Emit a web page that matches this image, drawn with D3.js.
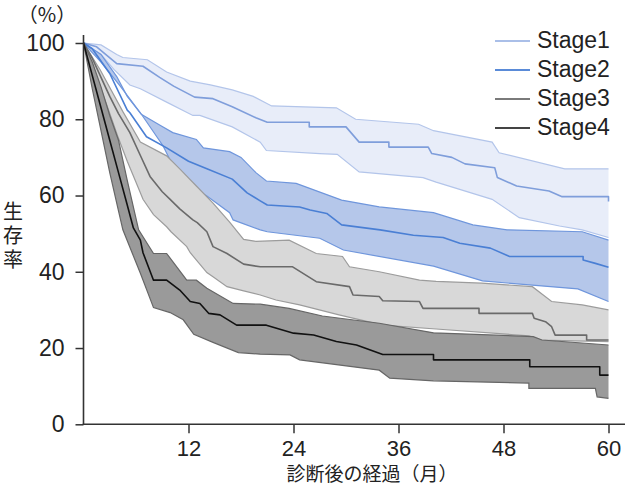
<!DOCTYPE html>
<html><head><meta charset="utf-8">
<script src="https://cdn.jsdelivr.net/npm/d3@7"></script>
<style>
html,body{margin:0;padding:0;background:#fff;}
svg{display:block;}
</style></head>
<body>
<svg id="chart" width="627" height="485"></svg>
<script>
// ---- data: [month, survival %] ----
const stageNames = ["Stage1", "Stage2", "Stage3", "Stage4"];
const xTicks = [12, 24, 36, 48, 60];
const yTicks = [0, 20, 40, 60, 80, 100];

const stage1Mid = [[0,100],[1.5,99],[3.8,94.6],[6.8,93.9],[8.7,91],[10.3,88.7],[12.7,85.8],[14.8,85.4],[17,83.3],[19.7,80.4],[21,79.2],[25.8,79.2],[25.8,78],[30,78],[31.5,74],[34.9,74],[34.9,72.7],[39.4,72.7],[39.8,71],[42.1,70],[43.6,68.3],[47,67.3],[47.3,64.7],[49.5,62.5],[53.2,61.2],[54.7,59.7],[60,59.7],[60,58.4]];
const stage1Upper = [[0,100],[2,99.5],[3.8,97],[4.5,96.2],[7.3,95.6],[9.5,92.4],[12.2,90],[14.5,89],[17,87.7],[19.4,86],[21.5,83.5],[28.9,83],[31.1,80],[38.3,78.7],[40,77],[46.7,74],[47.5,71.2],[55,67],[60,67]];
const stage1Lower = [[0,100],[2,97],[3.5,93],[5.3,89],[6.5,88],[9.5,84.5],[12.5,81],[13.3,81],[17,78],[20.2,74],[20.9,71.8],[27,71],[29,70.8],[31.5,66.2],[38.8,64.7],[40.3,63.5],[46.7,59],[49.8,54.2],[54.4,52],[57,51],[60,49]];

const stage2Mid = [[0,100],[1,98.5],[3,92],[5,82.4],[5.3,81.7],[7.2,75.4],[9.5,72.5],[12,69],[14.1,67],[17,64.3],[18.7,60.7],[20.2,58.6],[21,57.5],[24.7,57],[25.9,56.2],[27.8,55.3],[29.5,52.3],[33.9,51],[37.7,49.6],[41.1,49],[43,47.5],[46.5,46.2],[48.7,44],[57.1,44],[57.1,43.1],[58.5,42.2],[60,41.2]];
const stage2Upper = [[0,100],[2,97],[3.8,91.2],[5,86],[6.6,81.3],[8.7,78.5],[10.2,76.5],[12.9,74.7],[13.7,72.5],[16.7,71.5],[18,70],[19.7,66],[20.9,63.8],[24.3,63.2],[29.5,58.8],[33.8,57],[40,55.5],[44.5,52.3],[48.4,51],[57,50.5],[60,48.3]];
const stage2Lower = [[0,100],[2,95],[4.2,88.7],[6.5,81.7],[9.1,73],[11,64.2],[14.1,59.9],[16.7,55.5],[17.1,53.6],[20.2,51],[21,50.5],[27,48.8],[29.7,45.7],[40,41.5],[45.6,37.6],[51.3,36.5],[56.5,35.5],[60,32.2]];

const stage3Mid = [[0,100],[1,96],[2,91],[3,86],[4,81.5],[5.3,76.5],[6.5,70.5],[7.6,65],[9,61],[9.9,59],[11,56.5],[12.5,53.6],[13,52.9],[14.1,50.5],[14.8,46.6],[16.4,44.8],[18.3,42],[20.2,41.3],[23.9,41.3],[26.6,37.4],[30.4,36.1],[30.8,33.9],[33.8,33.5],[34.2,32.4],[38.4,32.2],[38.8,30.4],[45.2,30.4],[45.2,29.1],[51.3,29.1],[51.5,27.8],[52.8,26.9],[53.5,25.6],[53.9,23.4],[57.5,23.4],[57.5,22.1],[60,22.1]];
const stage3Upper = [[0,100],[1.9,93],[4.5,82],[6.5,74],[9.5,70.4],[11,67],[12.9,62.5],[14.8,58],[16.7,53],[18.3,48.5],[19.7,48],[23.5,48.3],[26.6,44.8],[29.6,44],[30.4,41.3],[33.8,40],[38.4,37.8],[40.3,37.5],[45.5,37],[51.3,36.1],[53.5,32.2],[57,31.3],[60,30]];
const stage3Lower = [[0,100],[1,94],[2,88],[3,81.5],[4,75],[5,69],[6,63.5],[6.8,59],[8,55],[9.5,51.8],[10,50.5],[11.8,46.6],[12.2,45],[14.1,39.8],[14.8,38.7],[16.4,36.1],[18.3,35],[20.2,33.9],[22,32.6],[24.7,31.3],[29.2,28.7],[34.2,26],[40.3,25],[50.9,23.2],[52.2,22.1],[60,21.7]];

const stage4Mid = [[0,100],[1,91.5],[2,83],[3,74.5],[4,66],[5,57.5],[5.7,51.5],[6.5,48.3],[6.8,45],[8,37.8],[9.5,37.8],[11,35.2],[12.2,32.2],[13.3,31.7],[14.3,29.1],[15.6,28.7],[17.5,26],[20.9,26],[24,23.9],[26.3,23.4],[28.9,21.7],[31.2,20.8],[34.2,18.3],[40,18.3],[40,16.9],[51,16.9],[51,15.1],[59,15.1],[59,12.9],[60,12.9]];
const stage4Upper = [[0,100],[1,95],[2,88.5],[3,81],[4,74.5],[5,64],[6.3,51],[8,44.8],[9.5,44.8],[11.8,37.8],[12.9,37.8],[14.1,35.7],[17.1,31.7],[20.2,31.5],[23.5,30.4],[27.3,28.4],[33.8,26.5],[40,24],[51.4,23],[52.4,22.1],[60,20.8]];
const stage4Lower = [[0,100],[1,88],[2,77],[3,66],[4,56],[4.5,51],[6.5,39.6],[8,30.6],[9.9,29.3],[11.4,27.4],[12.6,23.6],[14.8,21.5],[17.7,18.8],[20.2,18.4],[23.6,18.2],[24.7,16.9],[33.8,14.2],[35,12.1],[40,11.4],[50.9,10.8],[50.9,9.4],[58.5,9.4],[58.7,7.2],[60,6.8]];

const midSeries = [stage1Mid, stage2Mid, stage3Mid, stage4Mid];
const upperSeries = [stage1Upper, stage2Upper, stage3Upper, stage4Upper];
const lowerSeries = [stage1Lower, stage2Lower, stage3Lower, stage4Lower];

// ---- styles ----
const bandFill = ["#e8edf9", "#b5c7ea", "#d8d8d8", "#9a9a9a"];
const bandEdge = ["#b3c5ea", "#6f96dc", "#9c9c9c", "#666666"];
const midColor = ["#7f9edb", "#4a7fd4", "#6a6a6a", "#111111"];
const legendColor = ["#aabfe8", "#5a8bd8", "#7a7a7a", "#444444"];

const svg = d3.select("#chart");
const x = d3.scaleLinear().domain([0, 60]).range([83.5, 608.5]);
const y = d3.scaleLinear().domain([0, 100]).range([424.3, 43]);
const line = d3.line().x(d => x(d[0])).y(d => y(d[1]));

const plot = svg.append("g");
stageNames.forEach((name, i) => {
  const poly = upperSeries[i].concat(lowerSeries[i].slice().reverse());
  plot.append("path").attr("d", line(poly) + "Z")
    .attr("fill", bandFill[i]).attr("stroke", "none");
  [upperSeries[i], lowerSeries[i]].forEach(s => {
    plot.append("path").attr("d", line(s)).attr("fill", "none")
      .attr("stroke", bandEdge[i]).attr("stroke-width", 1.2);
  });
});
stageNames.forEach((name, i) => {
  plot.append("path").attr("d", line(midSeries[i])).attr("fill", "none")
    .attr("stroke", midColor[i]).attr("stroke-width", 1.6).attr("stroke-linejoin", "round");
});

// ---- axes ----
const axisColor = "#333";
const tickFont = "'Liberation Sans', Arial, sans-serif";
const yAxis = svg.append("g").attr("transform", `translate(${x(0)},0)`)
  .call(d3.axisLeft(y).tickValues(yTicks).tickSize(8).tickPadding(11));
const xAxis = svg.append("g").attr("transform", `translate(0,${y(0)})`)
  .call(d3.axisBottom(x).tickValues(xTicks).tickSize(9).tickPadding(7));
[yAxis, xAxis].forEach(g => {
  g.select(".domain").remove();
  g.selectAll("line").attr("stroke", axisColor).attr("stroke-width", 1.5);
});
yAxis.selectAll("text").attr("fill", "#222").style("font-family", tickFont).style("font-size", "23px");
xAxis.selectAll("text").attr("fill", "#222").style("font-family", tickFont).style("font-size", "22px");
svg.append("line").attr("x1", x(0)).attr("x2", x(0)).attr("y1", 35).attr("y2", y(0))
  .attr("stroke", axisColor).attr("stroke-width", 1.6);
svg.append("line").attr("x1", x(0) - 0.8).attr("x2", 625).attr("y1", y(0)).attr("y2", y(0))
  .attr("stroke", axisColor).attr("stroke-width", 1.6);

// ---- axis titles ----
const cjk = "'Noto Sans CJK JP', 'Noto Sans', sans-serif";
svg.append("text").attr("x", 47).attr("y", 22).attr("text-anchor", "middle")
  .style("font-family", cjk).style("font-size", "20px").attr("fill", "#222").text("（%）");
svg.append("text").attr("x", 13).attr("y", 237).attr("text-anchor", "middle")
  .style("font-family", cjk).style("font-size", "20px").style("writing-mode", "vertical-rl")
  .style("letter-spacing", "4px").attr("fill", "#222").text("生存率");
svg.append("text").attr("x", 372).attr("y", 481).attr("text-anchor", "middle")
  .style("font-family", cjk).style("font-size", "19px").attr("fill", "#222").text("診断後の経過（月）");

// ---- legend ----
const legend = svg.append("g");
stageNames.forEach((name, i) => {
  const by = 48 + i * 29;
  legend.append("line").attr("x1", 495).attr("x2", 530).attr("y1", by - 7).attr("y2", by - 7)
    .attr("stroke", legendColor[i]).attr("stroke-width", 2);
  legend.append("text").attr("x", 537).attr("y", by)
    .style("font-family", tickFont).style("font-size", "23px").attr("fill", "#222").text(name);
});
</script>
</body></html>
